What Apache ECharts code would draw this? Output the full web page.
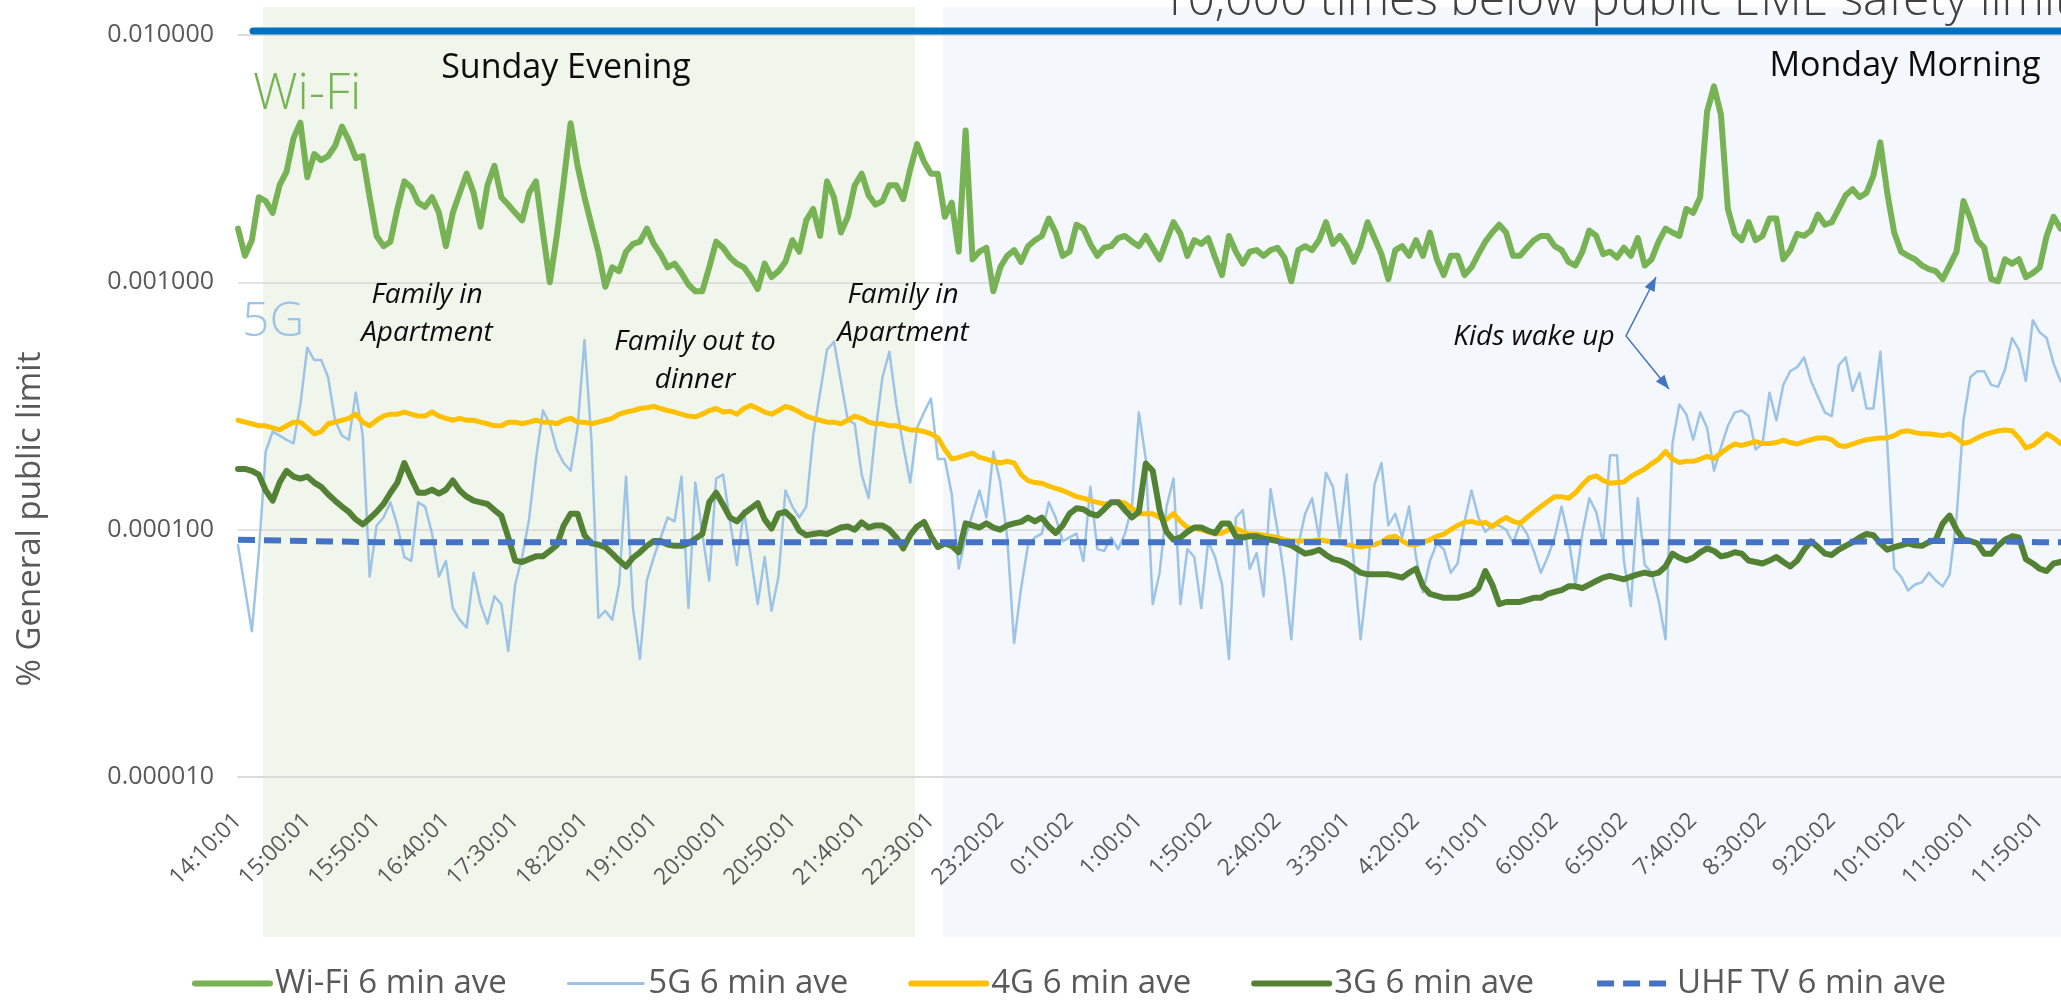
<!DOCTYPE html>
<html>
<head>
<meta charset="utf-8">
<title>EME exposure - apartment</title>
<script src="https://cdn.jsdelivr.net/npm/echarts@6/dist/echarts.min.js"></script>
<style>
html,body{margin:0;padding:0;background:#fff;overflow:hidden;}
#chart{width:2200px;height:1000px;}
</style>
</head>
<body>
<div id="chart"></div>
<script>
// x axis tick labels, one every 50 minutes (every 10th sample)
var tickLabels = ['14:10:01','15:00:01','15:50:01','16:40:01','17:30:01','18:20:01','19:10:01','20:00:01','20:50:01','21:40:01',
  '22:30:01','23:20:02','0:10:02','1:00:01','1:50:02','2:40:02','3:30:01','4:20:02','5:10:01','6:00:02',
  '6:50:02','7:40:02','8:30:02','9:20:02','10:10:02','11:00:01','11:50:01'];

// % of general public limit, read every 5 minutes
var wifi = [
  1.65e-3,1.28e-3,1.48e-3,2.21e-3,2.13e-3,1.91e-3,2.47e-3,2.80e-3,3.82e-3,4.42e-3,
  2.66e-3,3.30e-3,3.12e-3,3.24e-3,3.56e-3,4.26e-3,3.75e-3,3.18e-3,3.24e-3,2.21e-3,
  1.54e-3,1.40e-3,1.46e-3,1.98e-3,2.56e-3,2.42e-3,2.10e-3,2.02e-3,2.21e-3,1.91e-3,
  1.40e-3,1.91e-3,2.30e-3,2.75e-3,2.30e-3,1.68e-3,2.47e-3,2.96e-3,2.21e-3,2.06e-3,
  1.91e-3,1.78e-3,2.30e-3,2.56e-3,
  1.59e-3,1.00e-3,1.54e-3,2.56e-3,4.40e-3,2.96e-3,2.21e-3,1.71e-3,1.33e-3,9.6e-4,
  1.15e-3,1.11e-3,1.33e-3,1.43e-3,1.46e-3,1.65e-3,1.43e-3,1.30e-3,1.15e-3,1.19e-3,
  1.09e-3,9.8e-4,9.2e-4,9.2e-4,1.15e-3,1.46e-3,1.38e-3,1.26e-3,1.19e-3,1.15e-3,
  1.05e-3,9.4e-4,1.19e-3,1.05e-3,1.11e-3,1.21e-3,1.48e-3,1.33e-3,1.78e-3,1.98e-3,
  1.54e-3,2.56e-3,2.21e-3,1.59e-3,
  1.84e-3,2.47e-3,2.75e-3,2.25e-3,2.06e-3,2.13e-3,2.47e-3,2.47e-3,2.17e-3,2.86e-3,
  3.62e-3,3.07e-3,2.75e-3,2.75e-3,1.84e-3,2.10e-3,1.33e-3,4.11e-3,1.24e-3,1.33e-3,
  1.38e-3,9.2e-4,1.15e-3,1.28e-3,1.35e-3,1.21e-3,1.40e-3,1.48e-3,1.54e-3,1.81e-3,
  1.59e-3,1.28e-3,1.33e-3,1.71e-3,1.65e-3,1.43e-3,1.28e-3,1.38e-3,1.40e-3,1.51e-3,
  1.54e-3,1.46e-3,1.40e-3,1.54e-3,
  1.38e-3,1.24e-3,1.48e-3,1.75e-3,1.57e-3,1.28e-3,1.48e-3,1.43e-3,1.51e-3,1.26e-3,
  1.07e-3,1.54e-3,1.33e-3,1.19e-3,1.33e-3,1.35e-3,1.28e-3,1.35e-3,1.38e-3,1.26e-3,
  1.01e-3,1.35e-3,1.40e-3,1.35e-3,1.48e-3,1.75e-3,1.43e-3,1.54e-3,1.40e-3,1.21e-3,
  1.40e-3,1.75e-3,1.51e-3,1.30e-3,1.03e-3,1.35e-3,1.40e-3,1.28e-3,1.48e-3,1.28e-3,
  1.59e-3,1.24e-3,1.07e-3,1.28e-3,
  1.28e-3,1.07e-3,1.15e-3,1.30e-3,1.46e-3,1.59e-3,1.71e-3,1.59e-3,1.28e-3,1.28e-3,
  1.38e-3,1.48e-3,1.54e-3,1.54e-3,1.40e-3,1.35e-3,1.21e-3,1.17e-3,1.33e-3,1.62e-3,
  1.54e-3,1.30e-3,1.33e-3,1.26e-3,1.38e-3,1.28e-3,1.51e-3,1.17e-3,1.24e-3,1.46e-3,
  1.65e-3,1.59e-3,1.54e-3,1.98e-3,1.91e-3,2.21e-3,4.90e-3,6.20e-3,4.76e-3,1.98e-3,
  1.57e-3,1.48e-3,1.75e-3,1.48e-3,
  1.54e-3,1.81e-3,1.81e-3,1.24e-3,1.35e-3,1.57e-3,1.54e-3,1.62e-3,1.88e-3,1.71e-3,
  1.75e-3,1.98e-3,2.25e-3,2.38e-3,2.21e-3,2.30e-3,2.70e-3,3.68e-3,2.30e-3,1.59e-3,
  1.33e-3,1.28e-3,1.24e-3,1.17e-3,1.13e-3,1.11e-3,1.03e-3,1.17e-3,1.33e-3,2.13e-3,
  1.81e-3,1.48e-3,1.38e-3,1.03e-3,1.01e-3,1.24e-3,1.19e-3,1.24e-3,1.05e-3,1.09e-3,
  1.15e-3,1.54e-3,1.84e-3,1.65e-3,
  1.75e-3,1.90e-3,1.70e-3,1.60e-3,1.65e-3,1.70e-3,1.80e-3
];

var g5 = [
  8.65e-5,5.79e-5,3.88e-5,8.04e-5,2.07e-4,2.49e-4,2.40e-4,2.31e-4,2.23e-4,3.21e-4,
  5.44e-4,4.85e-4,4.85e-4,4.14e-4,2.77e-4,2.40e-4,2.31e-4,3.58e-4,2.40e-4,6.46e-5,
  1.04e-4,1.12e-4,1.29e-4,1.04e-4,7.75e-5,7.47e-5,1.29e-4,1.24e-4,9.64e-5,6.46e-5,
  7.47e-5,4.82e-5,4.32e-5,4.02e-5,6.70e-5,5.00e-5,4.17e-5,5.38e-5,5.00e-5,3.23e-5,
  6.00e-5,7.75e-5,1.10e-4,1.93e-4,
  3.03e-4,2.68e-4,2.11e-4,1.86e-4,1.73e-4,2.58e-4,5.85e-4,2.31e-4,4.40e-5,4.70e-5,
  4.32e-5,6.00e-5,1.64e-4,4.82e-5,3.00e-5,6.23e-5,7.75e-5,9.30e-5,1.12e-4,1.08e-4,
  1.64e-4,4.82e-5,1.55e-4,9.64e-5,6.23e-5,1.61e-4,1.67e-4,1.08e-4,7.20e-5,1.20e-4,
  7.75e-5,5.00e-5,7.75e-5,4.70e-5,6.46e-5,1.44e-4,1.24e-4,1.12e-4,1.24e-4,2.40e-4,
  3.58e-4,5.34e-4,5.75e-4,3.99e-4,
  2.77e-4,2.68e-4,1.67e-4,1.34e-4,2.49e-4,4.14e-4,5.24e-4,3.21e-4,2.19e-4,1.55e-4,
  2.58e-4,2.98e-4,3.39e-4,1.93e-4,1.93e-4,1.39e-4,6.95e-5,9.30e-5,1.16e-4,1.44e-4,
  1.12e-4,2.07e-4,1.55e-4,9.30e-5,3.48e-5,5.79e-5,8.65e-5,9.30e-5,9.64e-5,1.29e-4,
  1.12e-4,8.97e-5,9.30e-5,9.64e-5,7.47e-5,1.49e-4,8.34e-5,8.20e-5,9.30e-5,8.34e-5,
  9.64e-5,1.24e-4,2.98e-4,1.93e-4,
  5.00e-5,6.70e-5,1.24e-4,1.61e-4,5.00e-5,8.34e-5,7.75e-5,4.82e-5,8.97e-5,7.75e-5,
  6.00e-5,3.00e-5,1.12e-4,1.20e-4,6.95e-5,8.04e-5,5.38e-5,1.46e-4,1.00e-4,6.46e-5,
  3.60e-5,8.65e-5,1.16e-4,1.34e-4,9.30e-5,1.70e-4,1.49e-4,9.30e-5,1.67e-4,7.47e-5,
  3.60e-5,6.46e-5,1.52e-4,1.86e-4,1.04e-4,1.16e-4,9.30e-5,1.24e-4,7.75e-5,5.58e-5,
  7.47e-5,8.80e-5,8.34e-5,6.70e-5,
  7.30e-5,1.08e-4,1.44e-4,1.12e-4,9.80e-5,1.04e-4,1.04e-4,1.00e-4,8.80e-5,1.06e-4,
  9.64e-5,8.20e-5,6.70e-5,7.75e-5,9.30e-5,1.24e-4,9.30e-5,6.00e-5,9.64e-5,1.34e-4,
  1.18e-4,8.80e-5,2.00e-4,2.00e-4,7.47e-5,4.90e-5,1.34e-4,7.20e-5,6.70e-5,5.19e-5,
  3.60e-5,2.23e-4,3.21e-4,2.93e-4,2.31e-4,2.98e-4,2.58e-4,1.73e-4,2.15e-4,2.63e-4,
  2.98e-4,3.03e-4,2.88e-4,2.11e-4,
  2.23e-4,3.58e-4,2.77e-4,3.85e-4,4.37e-4,4.54e-4,4.97e-4,3.99e-4,3.45e-4,2.98e-4,
  2.88e-4,4.62e-4,4.97e-4,3.64e-4,4.30e-4,3.09e-4,3.09e-4,5.24e-4,2.23e-4,6.95e-5,
  6.46e-5,5.68e-5,6.00e-5,6.12e-5,6.70e-5,6.23e-5,5.90e-5,6.58e-5,1.12e-4,2.77e-4,
  4.14e-4,4.37e-4,4.37e-4,3.85e-4,3.78e-4,4.45e-4,5.96e-4,5.34e-4,3.99e-4,7.03e-4,
  6.28e-4,5.96e-4,4.70e-4,3.99e-4,
  3.71e-4,4.30e-4,4.62e-4,3.99e-4,3.33e-4,3.71e-4,4.14e-4
];

var g4 = [
  2.77e-4,2.72e-4,2.68e-4,2.63e-4,2.63e-4,2.58e-4,2.53e-4,2.63e-4,2.72e-4,2.72e-4,
  2.58e-4,2.44e-4,2.49e-4,2.68e-4,2.72e-4,2.77e-4,2.82e-4,2.93e-4,2.72e-4,2.63e-4,
  2.77e-4,2.88e-4,2.93e-4,2.93e-4,2.99e-4,2.93e-4,2.88e-4,2.88e-4,2.99e-4,2.88e-4,
  2.82e-4,2.77e-4,2.82e-4,2.77e-4,2.77e-4,2.72e-4,2.68e-4,2.63e-4,2.63e-4,2.72e-4,
  2.72e-4,2.68e-4,2.72e-4,2.77e-4,
  2.72e-4,2.72e-4,2.68e-4,2.77e-4,2.82e-4,2.72e-4,2.72e-4,2.68e-4,2.72e-4,2.77e-4,
  2.82e-4,2.93e-4,2.99e-4,3.03e-4,3.09e-4,3.11e-4,3.15e-4,3.09e-4,3.03e-4,2.99e-4,
  2.93e-4,2.88e-4,2.86e-4,2.93e-4,3.03e-4,3.09e-4,2.99e-4,3.01e-4,2.93e-4,3.09e-4,
  3.18e-4,3.09e-4,2.99e-4,2.93e-4,3.03e-4,3.15e-4,3.09e-4,2.99e-4,2.88e-4,2.82e-4,
  2.77e-4,2.72e-4,2.72e-4,2.68e-4,
  2.77e-4,2.88e-4,2.82e-4,2.72e-4,2.68e-4,2.68e-4,2.63e-4,2.63e-4,2.58e-4,2.53e-4,
  2.53e-4,2.49e-4,2.44e-4,2.35e-4,2.11e-4,1.93e-4,1.96e-4,2.00e-4,2.04e-4,1.96e-4,
  1.93e-4,1.89e-4,1.86e-4,1.89e-4,1.86e-4,1.67e-4,1.58e-4,1.55e-4,1.54e-4,1.50e-4,
  1.47e-4,1.44e-4,1.40e-4,1.36e-4,1.34e-4,1.31e-4,1.29e-4,1.27e-4,1.28e-4,1.30e-4,
  1.28e-4,1.22e-4,1.16e-4,1.16e-4,
  1.16e-4,1.12e-4,1.10e-4,1.16e-4,1.08e-4,1.02e-4,1.01e-4,1.00e-4,9.8e-5,9.6e-5,
  9.7e-5,1.00e-4,1.01e-4,9.8e-5,9.6e-5,9.6e-5,9.5e-5,9.4e-5,9.3e-5,9.1e-5,
  9.0e-5,9.0e-5,9.0e-5,9.0e-5,9.1e-5,9.0e-5,8.9e-5,8.9e-5,8.7e-5,8.6e-5,
  8.5e-5,8.6e-5,8.7e-5,8.9e-5,9.3e-5,9.4e-5,9.0e-5,8.7e-5,8.7e-5,8.9e-5,
  9.1e-5,9.4e-5,9.6e-5,1.00e-4,
  1.04e-4,1.07e-4,1.08e-4,1.06e-4,1.07e-4,1.03e-4,1.08e-4,1.12e-4,1.08e-4,1.06e-4,
  1.12e-4,1.18e-4,1.24e-4,1.30e-4,1.36e-4,1.36e-4,1.34e-4,1.41e-4,1.52e-4,1.62e-4,
  1.65e-4,1.58e-4,1.54e-4,1.55e-4,1.56e-4,1.64e-4,1.70e-4,1.76e-4,1.85e-4,1.93e-4,
  2.07e-4,1.93e-4,1.87e-4,1.89e-4,1.89e-4,1.93e-4,1.98e-4,1.94e-4,2.04e-4,2.14e-4,
  2.22e-4,2.19e-4,2.23e-4,2.27e-4,
  2.23e-4,2.23e-4,2.25e-4,2.30e-4,2.25e-4,2.22e-4,2.27e-4,2.31e-4,2.35e-4,2.35e-4,
  2.31e-4,2.19e-4,2.17e-4,2.22e-4,2.27e-4,2.31e-4,2.33e-4,2.35e-4,2.35e-4,2.40e-4,
  2.49e-4,2.51e-4,2.47e-4,2.44e-4,2.44e-4,2.42e-4,2.40e-4,2.44e-4,2.35e-4,2.23e-4,
  2.27e-4,2.35e-4,2.42e-4,2.47e-4,2.51e-4,2.53e-4,2.51e-4,2.35e-4,2.14e-4,2.19e-4,
  2.31e-4,2.44e-4,2.35e-4,2.23e-4,
  2.31e-4,2.35e-4,2.35e-4,2.31e-4,2.27e-4,2.31e-4,2.33e-4
];

var g3 = [
  1.76e-4,1.76e-4,1.73e-4,1.67e-4,1.44e-4,1.31e-4,1.55e-4,1.73e-4,1.64e-4,1.61e-4,
  1.64e-4,1.55e-4,1.49e-4,1.39e-4,1.31e-4,1.24e-4,1.18e-4,1.10e-4,1.05e-4,1.11e-4,
  1.18e-4,1.27e-4,1.41e-4,1.55e-4,1.86e-4,1.61e-4,1.41e-4,1.41e-4,1.45e-4,1.40e-4,
  1.45e-4,1.58e-4,1.44e-4,1.36e-4,1.31e-4,1.29e-4,1.27e-4,1.20e-4,1.14e-4,9.3e-5,
  7.5e-5,7.4e-5,7.6e-5,7.8e-5,
  7.8e-5,8.2e-5,8.65e-5,1.04e-4,1.16e-4,1.16e-4,9.5e-5,8.8e-5,8.7e-5,8.5e-5,
  8.0e-5,7.5e-5,7.1e-5,7.7e-5,8.1e-5,8.6e-5,9.0e-5,9.0e-5,8.7e-5,8.6e-5,
  8.6e-5,8.8e-5,9.2e-5,9.6e-5,1.29e-4,1.41e-4,1.26e-4,1.12e-4,1.08e-4,1.16e-4,
  1.22e-4,1.28e-4,1.10e-4,1.01e-4,1.16e-4,1.18e-4,1.11e-4,9.9e-5,9.5e-5,9.6e-5,
  9.7e-5,9.6e-5,9.9e-5,1.02e-4,
  1.03e-4,1.00e-4,1.07e-4,1.02e-4,1.04e-4,1.04e-4,1.00e-4,9.3e-5,8.4e-5,9.5e-5,
  1.03e-4,1.075e-4,9.4e-5,8.5e-5,8.8e-5,8.6e-5,8.1e-5,1.06e-4,1.04e-4,1.02e-4,
  1.06e-4,1.02e-4,1.00e-4,1.04e-4,1.06e-4,1.075e-4,1.12e-4,1.08e-4,1.12e-4,1.03e-4,
  9.7e-5,1.04e-4,1.16e-4,1.22e-4,1.21e-4,1.16e-4,1.14e-4,1.21e-4,1.29e-4,1.29e-4,
  1.20e-4,1.12e-4,1.18e-4,1.85e-4,
  1.73e-4,1.20e-4,9.8e-5,9.1e-5,9.3e-5,9.8e-5,1.02e-4,1.02e-4,9.9e-5,9.7e-5,
  1.06e-4,1.06e-4,9.4e-5,9.3e-5,9.4e-5,9.4e-5,9.2e-5,9.1e-5,9.0e-5,8.8e-5,
  8.65e-5,8.3e-5,8.0e-5,8.1e-5,8.3e-5,7.9e-5,7.6e-5,7.5e-5,7.3e-5,7.0e-5,
  6.7e-5,6.6e-5,6.6e-5,6.6e-5,6.6e-5,6.5e-5,6.4e-5,6.7e-5,6.95e-5,5.9e-5,
  5.5e-5,5.4e-5,5.3e-5,5.3e-5,
  5.3e-5,5.4e-5,5.5e-5,5.8e-5,6.8e-5,6.0e-5,5.0e-5,5.1e-5,5.1e-5,5.1e-5,
  5.2e-5,5.3e-5,5.3e-5,5.5e-5,5.6e-5,5.7e-5,5.9e-5,5.9e-5,5.8e-5,6.0e-5,
  6.2e-5,6.4e-5,6.5e-5,6.4e-5,6.3e-5,6.46e-5,6.6e-5,6.7e-5,6.6e-5,6.7e-5,
  7.1e-5,8.0e-5,7.7e-5,7.5e-5,7.7e-5,8.1e-5,8.4e-5,8.2e-5,7.8e-5,7.9e-5,
  8.1e-5,8.0e-5,7.5e-5,7.4e-5,
  7.3e-5,7.5e-5,7.75e-5,7.4e-5,7.1e-5,7.5e-5,8.3e-5,8.97e-5,8.5e-5,8.0e-5,
  7.9e-5,8.3e-5,8.6e-5,8.9e-5,9.3e-5,9.6e-5,9.5e-5,8.8e-5,8.3e-5,8.5e-5,
  8.65e-5,8.8e-5,8.65e-5,8.6e-5,8.9e-5,9.1e-5,1.06e-4,1.14e-4,1.00e-4,9.1e-5,
  9.0e-5,8.8e-5,8.0e-5,8.0e-5,8.6e-5,9.1e-5,9.4e-5,9.3e-5,7.6e-5,7.3e-5,
  6.95e-5,6.8e-5,7.3e-5,7.4e-5,
  7.6e-5,7.75e-5,7.5e-5,7.4e-5,7.6e-5,7.75e-5,7.7e-5
];

// UHF TV is nearly flat: one reading every 50 minutes
var uhf = [9.1e-5,9.0e-5,8.9e-5,8.9e-5,8.9e-5,8.9e-5,8.9e-5,8.9e-5,8.9e-5,8.9e-5,
  8.9e-5,8.9e-5,8.9e-5,8.9e-5,8.9e-5,8.9e-5,8.9e-5,8.9e-5,8.9e-5,8.9e-5,
  8.9e-5,8.9e-5,8.9e-5,8.9e-5,9.0e-5,9.0e-5,8.9e-5,8.9e-5];

// category names, one every 5 minutes from 14:10
var times = [];
for (var i = 0; i < wifi.length; i++) {
  var m = (14 * 60 + 10 + 5 * i) % 1440;
  times.push(Math.floor(m / 60) + ':' + ('0' + (m % 60)).slice(-2));
}
var uhfData = uhf.map(function (v, k) { return [k * 10, v]; });

var FONT = "'Open Sans', 'Noto Sans', sans-serif";

function arrowHead(x0, y0, x1, y1) {
  var dx = x1 - x0, dy = y1 - y0, len = Math.sqrt(dx * dx + dy * dy);
  var ux = dx / len, uy = dy / len, s = 14, w = 5.5;
  return [[x1, y1], [x1 - s * ux - w * uy, y1 - s * uy + w * ux], [x1 - s * ux + w * uy, y1 - s * uy - w * ux]];
}

function label(text, x, y, size, color, extra) {
  var st = { text: text, x: x, y: y, fontSize: size, fontFamily: FONT, fill: color, align: 'center', verticalAlign: 'middle' };
  for (var k in extra) st[k] = extra[k];
  return { type: 'text', silent: true, z: 50, style: st };
}

function lineSeries(name, data, color, width, dash) {
  return {
    name: name, type: 'line', data: data, symbol: 'none', showSymbol: false,
    lineStyle: { color: color, width: width, type: dash || 'solid', cap: dash ? 'butt' : 'round', join: 'round' },
    itemStyle: { color: color },
    emphasis: { disabled: true }
  };
}

var chart = echarts.init(document.getElementById('chart'));
var J = [1626, 336], T1 = [1656, 277], T2 = [1669, 389];

chart.setOption({
  animation: false,
  backgroundColor: '#ffffff',
  grid: { left: 238, right: 91, top: 35, bottom: 223, containLabel: false },
  legend: {
    data: [
      { name: 'Wi-Fi 6 min ave', lineStyle: { width: 6 } },
      { name: '5G 6 min ave', lineStyle: { width: 3 } },
      { name: '4G 6 min ave', lineStyle: { width: 6 } },
      { name: '3G 6 min ave', lineStyle: { width: 6 } },
      { name: 'UHF TV 6 min ave', lineStyle: { width: 6 } }
    ],
    left: 187, top: 962, itemWidth: 75, itemHeight: 14, itemGap: 60,
    itemStyle: { opacity: 0 },
    textStyle: { fontSize: 33, color: '#595959', fontFamily: FONT },
    selectedMode: false
  },
  xAxis: {
    type: 'category', data: times, boundaryGap: false,
    axisLine: { lineStyle: { color: '#D9D9D9', width: 1.5 } },
    axisTick: { show: false },
    axisLabel: {
      interval: 9, rotate: 45, margin: 40, color: '#595959', fontSize: 23, fontFamily: FONT,
      formatter: function (v, idx) { return tickLabels[idx / 10] || ''; }
    },
    splitLine: { show: false }
  },
  yAxis: {
    type: 'log', logBase: 10, min: 0.00001, max: 0.01,
    axisLine: { show: false }, axisTick: { show: false },
    axisLabel: { margin: 24, color: '#595959', fontSize: 25, fontFamily: FONT,
      formatter: function (v) { return v.toFixed(6); } },
    splitLine: { lineStyle: { color: '#D9D9D9', width: 1.5 } }
  },
  series: [
    lineSeries('Wi-Fi 6 min ave', wifi, '#77B255', 6),
    lineSeries('5G 6 min ave', g5, '#9DC3E6', 2.5),
    lineSeries('4G 6 min ave', g4, '#FFC000', 5),
    lineSeries('3G 6 min ave', g3, '#548235', 6),
    lineSeries('UHF TV 6 min ave', uhfData, '#4472C4', 6, [17, 9])
  ],
  graphic: [
    { type: 'rect', z: -10, silent: true, shape: { x: 263, y: 7, width: 652, height: 930 }, style: { fill: '#F1F6EC' } },
    { type: 'rect', z: -10, silent: true, shape: { x: 943, y: 7, width: 1300, height: 930 }, style: { fill: '#F4F8FC' } },
    { type: 'line', z: 40, silent: true, shape: { x1: 253, y1: 31, x2: 2200, y2: 31 }, style: { stroke: '#0070C0', lineWidth: 7, lineCap: 'round' } },
    label('10,000 times below public EME safety limit', 1160, 1, 48, '#404040', { align: 'left', fontWeight: 300 }),
    label('Wi-Fi', 253, 95, 50, '#77B255', { align: 'left', fontWeight: 300 }),
    label('5G', 242, 322, 48, '#9DC3E6', { align: 'left', fontWeight: 300 }),
    label('Sunday Evening', 566, 68, 34, '#0D0D0D'),
    label('Monday Morning', 1905, 66, 34, '#0D0D0D'),
    label('Family in\nApartment', 427, 314, 28, '#0D0D0D', { fontStyle: 'italic', lineHeight: 38 }),
    label('Family out to\ndinner', 695, 361, 28, '#0D0D0D', { fontStyle: 'italic', lineHeight: 38 }),
    label('Family in\nApartment', 903, 314, 28, '#0D0D0D', { fontStyle: 'italic', lineHeight: 38 }),
    label('Kids wake up', 1534, 337, 28, '#0D0D0D', { fontStyle: 'italic' }),
    { type: 'polyline', z: 50, silent: true, shape: { points: [T1, J, T2] }, style: { stroke: '#4472C4', lineWidth: 1.5, fill: null } },
    { type: 'polygon', z: 50, silent: true, shape: { points: arrowHead(J[0], J[1], T1[0], T1[1]) }, style: { fill: '#4472C4' } },
    { type: 'polygon', z: 50, silent: true, shape: { points: arrowHead(J[0], J[1], T2[0], T2[1]) }, style: { fill: '#4472C4' } },
    { type: 'text', silent: true, z: 50, x: 31, y: 519, rotation: Math.PI / 2,
      style: { text: '% General public limit', x: 0, y: 0, fontSize: 33, fontFamily: FONT, fill: '#595959', align: 'center', verticalAlign: 'middle' } }
  ]
});
</script>
</body>
</html>
